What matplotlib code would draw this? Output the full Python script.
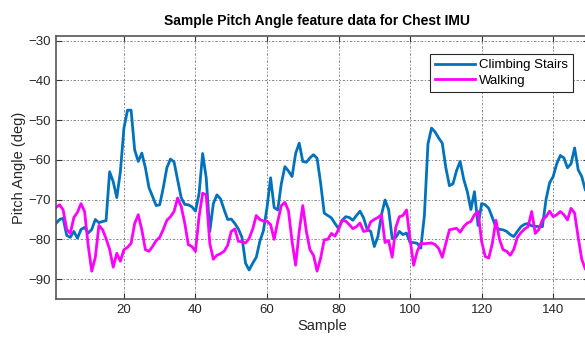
import numpy as np
import matplotlib.pyplot as plt

plt.rcParams['font.family'] = ['Liberation Sans', 'DejaVu Sans']

# pitch angle readings (deg), one per sample
climbing = [-76, -75, -74.7, -79, -79.5, -78, -79.7, -77.5, -77, -78.4,
            -77.5, -75, -75.8, -75.5, -75.3, -63, -65.5, -69.5, -63, -52,
            -47.5, -47.5, -57.5, -60.4, -58.3, -62, -67, -69.2, -71.5, -71.3,
            -67, -62, -59.8, -60.5, -65, -69.5, -71.2, -71.3, -71.8, -72.9,
            -68.5, -58.4, -64.5, -78, -71, -68.8, -69.8, -72.5, -75, -74.9,
            -76, -77.4, -79.5, -86, -87.7, -86, -84.5, -80.5, -77.8, -72,
            -64.5, -72, -72.6, -66, -61.7, -62.8, -64.2, -58.4, -55.8, -60.4,
            -60.6, -59.5, -58.7, -59.6, -65.9, -73.4, -74, -74.6, -76, -77.3,
            -75.2, -74.3, -74.5, -75.2, -74, -72.9, -74.6, -77.5, -78, -81.8,
            -79.3, -73.8, -70.1, -72.5, -79.8, -79.5, -78, -78.8, -78.4, -80.8,
            -80.8, -81, -82.2, -74, -56, -52, -53, -54.5, -55.8, -62,
            -66.5, -66, -62.7, -60.4, -64.9, -68, -72.5, -68, -76.5, -71,
            -71.3, -72.2, -74.5, -77, -77.5, -77.6, -78, -78.8, -79.3, -78,
            -76.8, -76.2, -76, -76.6, -76.7, -76.8, -76.8, -70, -65.8, -64.2,
            -61, -58.9, -59.5, -62, -61, -57, -62.5, -64.2, -67.6, -68.5]

walking = [-72, -71.3, -72.6, -77.5, -78.5, -74.5, -73.2, -71, -73, -81.5,
           -88, -84.5, -76.5, -77.5, -79.8, -82.5, -87, -83.5, -85.5, -82.6,
           -82, -81, -76, -73.8, -77.6, -82.6, -83, -81.8, -80.3, -79.5,
           -77.5, -75.2, -74.3, -73, -69.6, -71.7, -75.9, -81.3, -81.8, -83,
           -74.3, -68.4, -68.8, -81, -85, -84, -83.6, -83, -81.5, -78,
           -77.4, -80.5, -80.6, -80.9, -79.8, -77.4, -74, -75, -75.4, -75.4,
           -76.3, -80, -75.5, -71.5, -70.7, -72.8, -80.5, -86.5, -78, -71.5,
           -78, -82.6, -84, -88, -84.7, -80.1, -80, -78.5, -79.2, -77.5,
           -75.2, -75.4, -76.3, -77.3, -76.8, -75.9, -78, -77.8, -75.6, -75,
           -74.5, -73.8, -80.8, -80.3, -84.5, -77, -74.3, -74, -72.6, -80,
           -86.5, -83, -81, -81.1, -81, -80.9, -81.3, -82.3, -84.5, -81,
           -77.6, -77.4, -77.2, -78.2, -76.8, -75.9, -75.5, -73.8, -73, -80.5,
           -84.3, -84.7, -81, -75.2, -80, -82.6, -83, -84, -82.5, -79.5,
           -78.3, -77.4, -76.8, -73, -78.5, -77.5, -75.1, -74.3, -72.9, -74.3,
           -73.8, -73, -73.8, -75.1, -72.2, -73.4, -79.5, -85, -87.5, -88]

sample = np.arange(1, len(climbing) + 1)
xticks = [20, 40, 60, 80, 100, 120, 140]
yticks = [-90, -80, -70, -60, -50, -40, -30]

fig = plt.figure(figsize=(5.85, 3.4), dpi=100)
ax = fig.add_axes([0.0957, 0.1206, 0.911, 0.774])

ax.plot(sample, climbing, color='#0072BD', linewidth=2.0, label='Climbing Stairs')
ax.plot(sample, walking, color='#FF00FF', linewidth=2.0, label='Walking')

ax.set_xlim(1, 150)
ax.set_ylim(-95, -28.8)
ax.set_xticks(xticks)
ax.set_yticks(yticks)
ax.tick_params(direction='in', labelsize=9.5, length=4, color='#333333',
               top=True, right=True, labelcolor='#262626')
ax.grid(True, linestyle=(0, (1.5, 2, 3, 2)), color='#777777', linewidth=0.6)
for sp in ax.spines.values():
    sp.set_color('#555555')
    sp.set_linewidth(1.2)

ax.set_xlabel('Sample', fontsize=10.5, color='#262626', labelpad=2)
ax.set_ylabel('Pitch Angle (deg)', fontsize=10.5, color='#262626', labelpad=2)
ax.set_title('Sample Pitch Angle feature data for Chest IMU', fontsize=10,
             fontweight='bold', pad=8, x=0.49)

leg = ax.legend(loc='upper right', bbox_to_anchor=(0.970, 0.932),
                borderaxespad=0, fontsize=9.5, fancybox=False, framealpha=1,
                handlelength=3.0, handletextpad=0.3, borderpad=0.4,
                labelspacing=0.25)
leg.get_frame().set_edgecolor('#262626')
leg.get_frame().set_linewidth(0.8)

fig.savefig('out.png', dpi=100)
